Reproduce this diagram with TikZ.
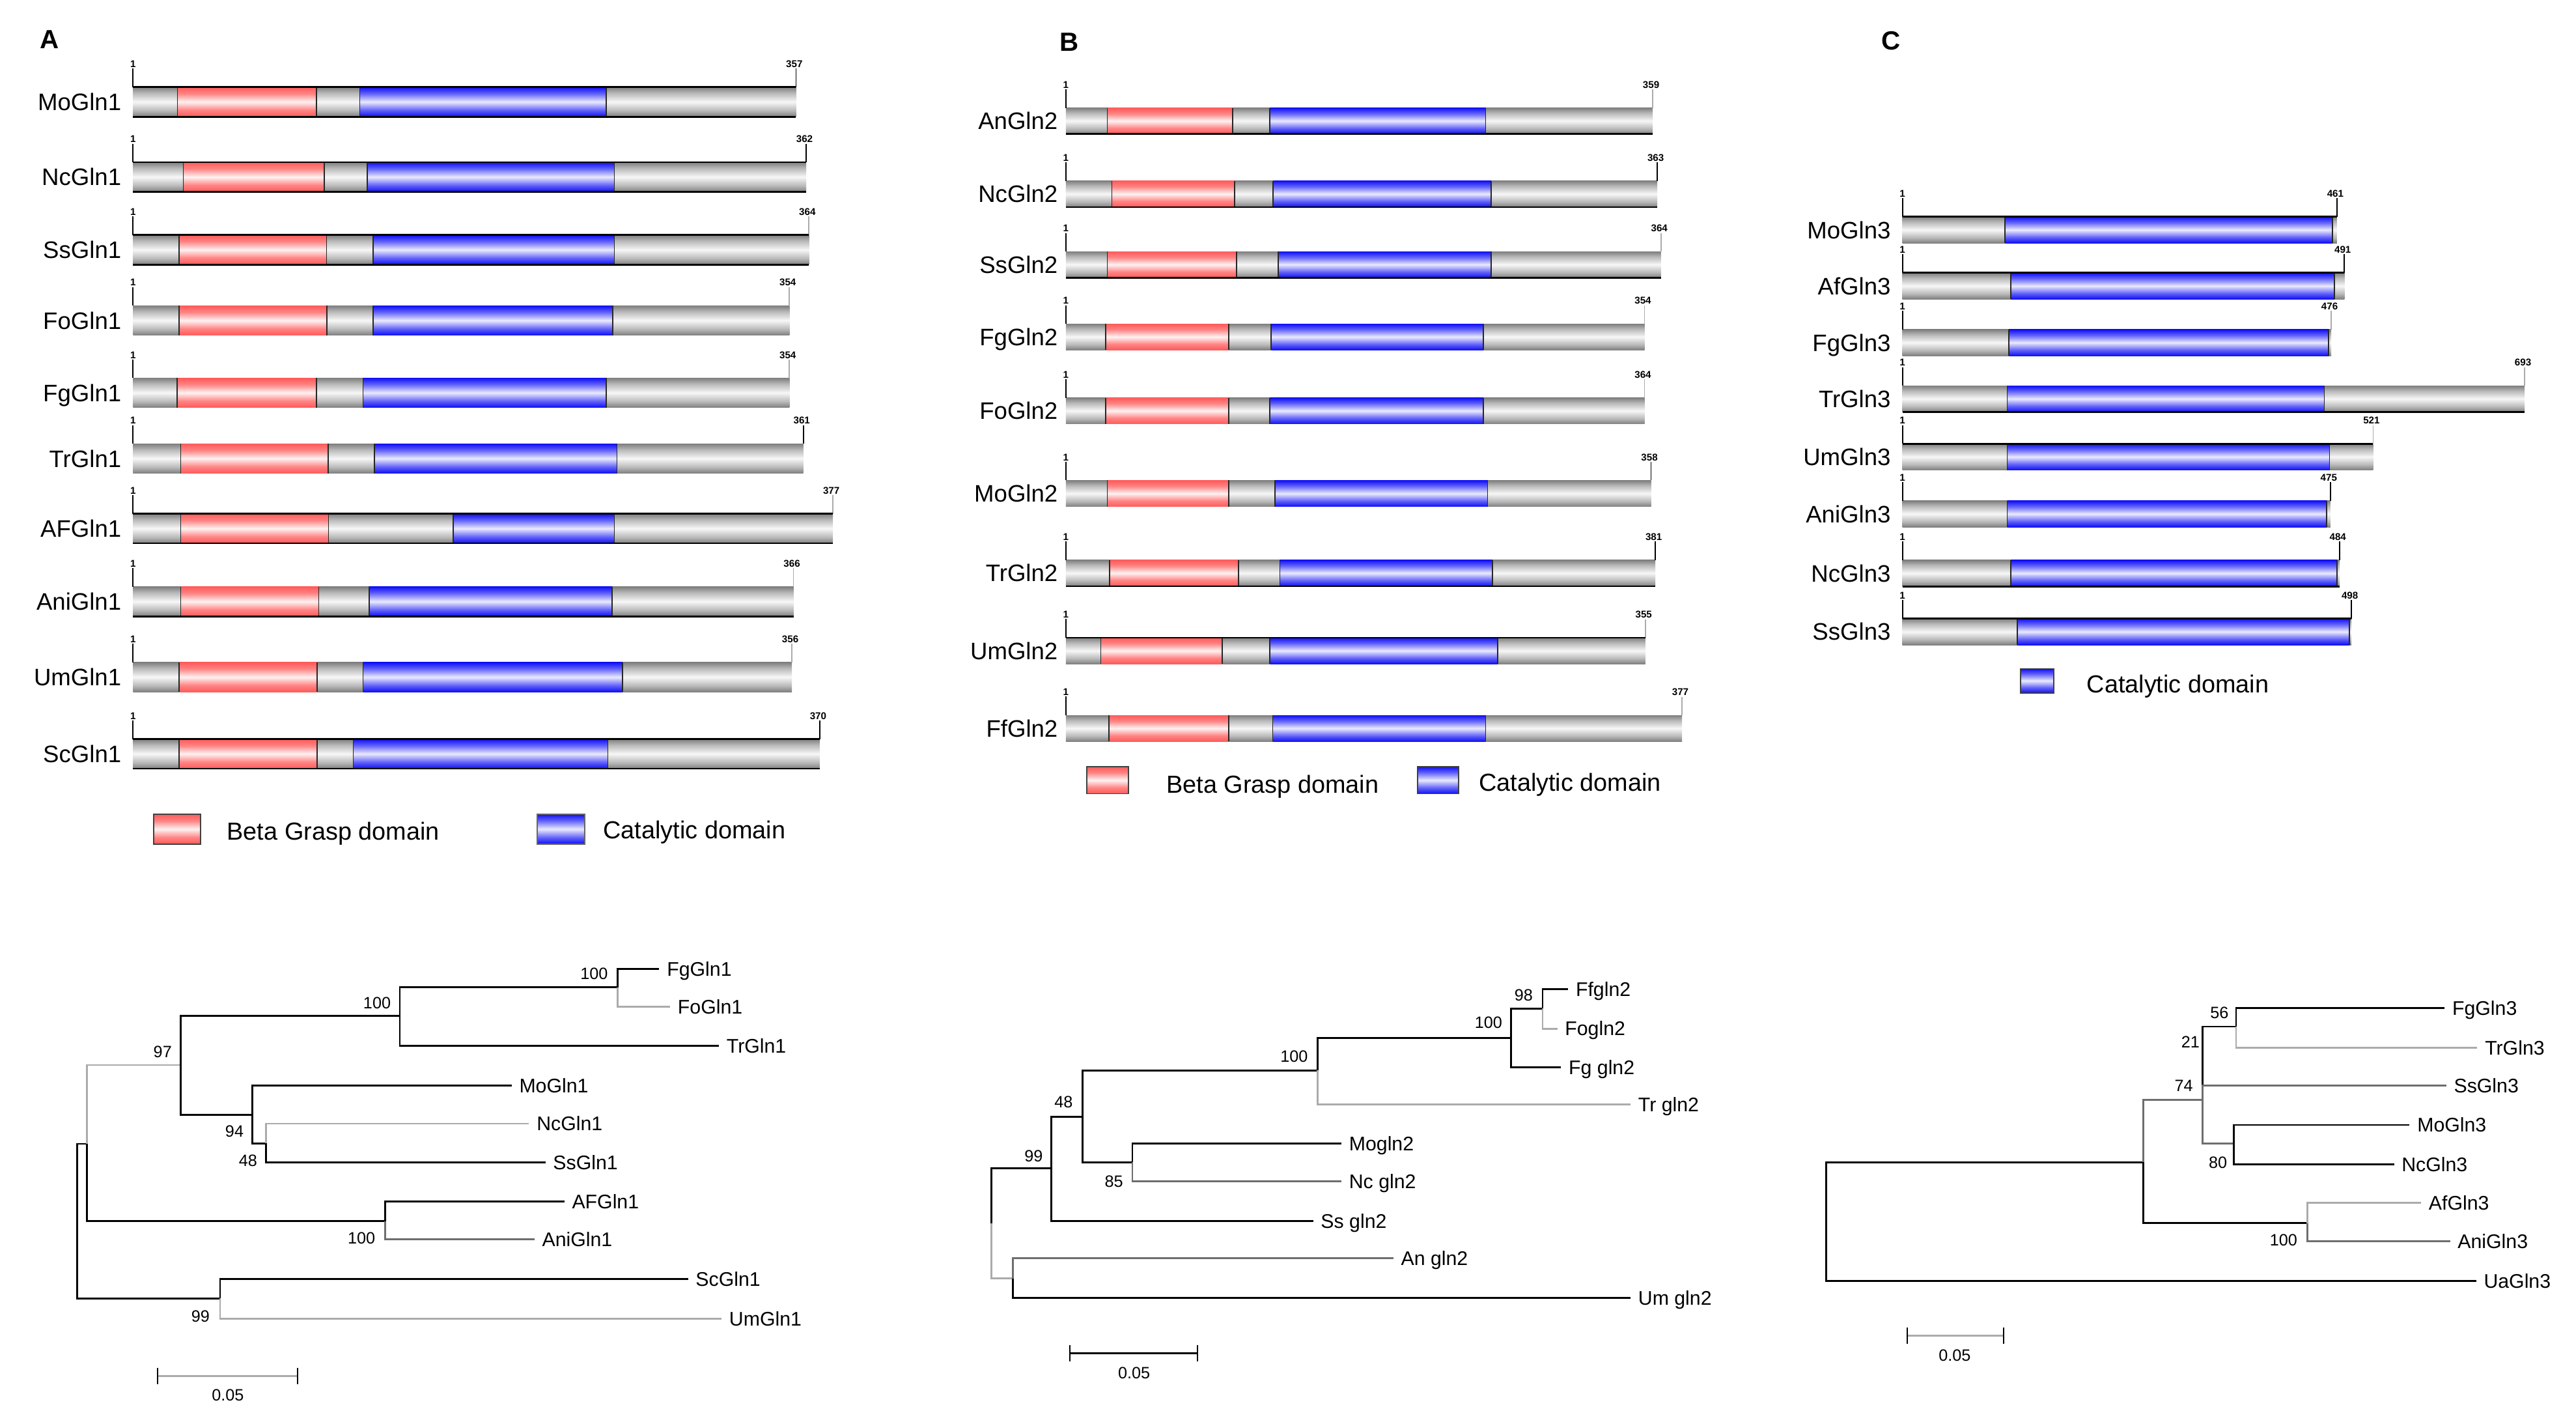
\documentclass[tikz,border=0pt]{standalone}
\usepackage{fontspec}
\setmainfont{Liberation Sans}
\usetikzlibrary{calc}

\definecolor{gedge}{HTML}{7E7E7E}
\definecolor{gmid}{HTML}{F7F7F7}
\definecolor{pedge}{HTML}{FF5A5A}
\definecolor{pmid}{HTML}{FFF2F2}
\definecolor{bedge}{HTML}{0F0FF5}
\definecolor{bmid}{HTML}{EAEAFF}
\definecolor{lgrey}{HTML}{ABABAB}
\definecolor{mgrey}{HTML}{6E6E6E}

\pgfdeclareverticalshading{greyshade}{100bp}{color(0bp)=(gedge); color(25bp)=(gedge); color(35bp)=(gedge!55!white); color(50bp)=(gmid); color(65bp)=(gedge!55!white); color(75bp)=(gedge); color(100bp)=(gedge)}
\pgfdeclareverticalshading{pinkshade}{100bp}{color(0bp)=(pedge); color(25bp)=(pedge); color(36bp)=(pedge!75!white); color(50bp)=(pmid); color(64bp)=(pedge!75!white); color(75bp)=(pedge); color(100bp)=(pedge)}
\pgfdeclareverticalshading{blueshade}{100bp}{color(0bp)=(bedge); color(25bp)=(bedge); color(36bp)=(bedge!65!white); color(50bp)=(bmid); color(64bp)=(bedge!65!white); color(75bp)=(bedge); color(100bp)=(bedge)}

\tikzset{
 barbox/.style={inner sep=0pt, outer sep=0pt, anchor=north west, minimum height=\barh},
 greyseg/.style={barbox, shade, shading=greyshade},
 pinkseg/.style={barbox, shade, shading=pinkshade},
 blueseg/.style={barbox, shade, shading=blueshade},
 sepline/.style={draw=black!85, line width=0.7pt},
 edgeline/.style={draw=black, line width=1.1pt},
 rowlab/.style={font=\fontsize{14.5}{17}\selectfont, inner sep=0pt, anchor=base east},
 legtxt/.style={font=\fontsize{15}{17}\selectfont, inner sep=0pt, anchor=base west},
 tinynum/.style={font=\fontsize{6}{7}\selectfont\bfseries, inner sep=0.5pt, anchor=base},
 ticky/.style={line width=0.7pt},
 panellab/.style={font=\fontsize{16}{18}\selectfont\bfseries, inner sep=0pt},
 branch/.style={line width=1.1pt, draw=black},
 gbranch/.style={branch, draw=lgrey},
 mbranch/.style={branch, draw=mgrey},
 leaflab/.style={font=\fontsize{12}{14}\selectfont, inner sep=0pt, anchor=base west},
 boot/.style={font=\fontsize{10}{12}\selectfont, inner sep=0pt},
}

% #1 name #2 left #3 top #4 end #5 length #6 pink start #7 pink end #8 blue start #9 blue end
\newcommand\gbar[9]{%
 \node[greyseg, minimum width={#4-#2}] (#1) at (#2,#3) {};
 \node[pinkseg, minimum width={#7-#6}] (#1p) at (#6,#3) {};
 \node[blueseg, minimum width={#9-#8}] (#1b) at (#8,#3) {};
 \draw[sepline] (#1p.north west) -- (#1p.south west) (#1p.north east) -- (#1p.south east)
   (#1b.north west) -- (#1b.south west) (#1b.north east) -- (#1b.south east);
 \node[rowlab] (#1l) at (\labx,{#3+\barh/2+5.2}) {#1};
 \node[tinynum] (#1s) at (#2,{#3-12}) {1};
 \node[tinynum] (#1e) at ({#4-1},{#3-12}) {#5};
 \draw[ticky] (#1s.south) -- (#1.north west);
 \draw[ticky, draw=\tcol] (#1e.south -| #1.north east) -- (#1.north east);
}
% #1 name #2 left #3 top #4 end #5 length #6 blue start #7 blue end
\newcommand\gbarc[7]{%
 \node[greyseg, minimum width={#4-#2}] (#1) at (#2,#3) {};
 \node[blueseg, minimum width={#7-#6}] (#1b) at (#6,#3) {};
 \draw[sepline] (#1b.north west) -- (#1b.south west) (#1b.north east) -- (#1b.south east);
 \node[rowlab] (#1l) at (\labx,{#3+\barh/2+5.2}) {#1};
 \node[tinynum] (#1s) at (#2,{#3-12}) {1};
 \node[tinynum] (#1e) at ({#4-1},{#3-12}) {#5};
 \draw[ticky] (#1s.south) -- (#1.north west);
 \draw[ticky, draw=\tcol] (#1e.south -| #1.north east) -- (#1.north east);
}
\newcommand\btop[1]{\draw[edgeline] (#1.north west) -- (#1.north east);}
\newcommand\bbot[1]{\draw[edgeline] (#1.south west) -- (#1.south east);}
\newcommand\tleaf[4]{%
 \coordinate (#1) at (#2,#3);
 \node[leaflab] (#1l) at ({#2+4.5},{#3+4.3}) {#4};
}

\begin{document}
\begin{tikzpicture}[x=1pt, y=-1pt]
\useasboundingbox (0,0) rectangle (1568,856);
\fill[white] (0,0) rectangle (1568,856);

% ---------------- Panel A ----------------
\node[panellab] (labA) at (30,24) {A};
\def\labx{74}\def\barh{18}
\def\tcol{black}\gbar{MoGln1}{81}{53}{484.5}{357}{108}{192.5}{219}{369}
\def\tcol{black}\gbar{NcGln1}{81}{98.7}{490.7}{362}{111.6}{197.5}{223.6}{374}
\def\tcol{lgrey}\gbar{SsGln1}{81}{143}{492.4}{364}{109}{198.8}{227}{374}
\def\tcol{lgrey}\gbar{FoGln1}{81}{186}{480.5}{354}{109}{199}{227}{373}
\def\tcol{lgrey}\gbar{FgGln1}{81}{230}{480.5}{354}{107.7}{192.5}{221}{369}
\def\tcol{black}\gbar{TrGln1}{81}{270}{489}{361}{110}{199.8}{228}{375.5}
\def\tcol{lgrey}\gbar{AFGln1}{81}{312.6}{507}{377}{110}{200}{276}{374}
\def\tcol{lgrey}\gbar{AniGln1}{81}{357}{483}{366}{110}{194}{224.6}{372.5}
\def\tcol{lgrey}\gbar{UmGln1}{81}{403}{482}{356}{109}{193}{221}{379}
\def\tcol{black}\gbar{ScGln1}{81}{449.7}{499}{370}{109}{193}{215}{370}
\btop{MoGln1}\bbot{MoGln1}\btop{NcGln1}\bbot{NcGln1}\btop{SsGln1}\bbot{SsGln1}
\btop{AFGln1}\bbot{AFGln1}\bbot{AniGln1}\btop{ScGln1}\bbot{ScGln1}

\node[pinkseg, minimum width=28.5, minimum height=18.2, draw=black!75, line width=0.7pt] (legAp) at (93.5,495.4) {};
\node[legtxt] (legApt) at (138,511.2) {Beta Grasp domain};
\node[blueseg, minimum width=29, minimum height=18.2, draw=black!60, line width=0.7pt] (legAb) at (327,495.4) {};
\node[legtxt] (legAbt) at (367,510.5) {Catalytic domain};

% ---------------- Panel B ----------------
\node[panellab] (labB) at (651,25.6) {B};
\def\labx{644}\def\barh{16}
\def\tcol{lgrey}\gbar{AnGln2}{648.8}{65.6}{1006}{359}{674}{750.3}{773}{904.3}
\def\tcol{black}\gbar{NcGln2}{648.8}{110}{1008.8}{363}{676.8}{751.5}{775}{907.6}
\def\tcol{lgrey}\gbar{SsGln2}{648.8}{153}{1011}{364}{674}{752.8}{778}{907.6}
\def\tcol{lgrey}\gbar{FgGln2}{648.8}{197}{1001}{354}{673}{747.9}{773.8}{902.8}
\def\tcol{lgrey}\gbar{FoGln2}{648.8}{242}{1001}{364}{673}{748}{773}{902.8}
\def\tcol{black}\gbar{MoGln2}{648.8}{292.3}{1005}{358}{674}{748}{776}{905.5}
\def\tcol{black}\gbar{TrGln2}{648.8}{340.7}{1007.6}{381}{675.3}{754}{779}{908.5}
\def\tcol{lgrey}\gbar{UmGln2}{648.8}{388}{1001.5}{355}{670}{744}{773}{911.6}
\def\tcol{lgrey}\gbar{FfGln2}{648.8}{435.2}{1023.8}{377}{675}{748}{774.7}{904.3}
\bbot{AnGln2}\bbot{NcGln2}\bbot{SsGln2}\bbot{TrGln2}\btop{UmGln2}

\node[pinkseg, minimum width=25.3, minimum height=16.5, draw=black!75, line width=0.7pt] (legBp) at (661.6,466.5) {};
\node[legtxt] (legBpt) at (709.8,482.5) {Beta Grasp domain};
\node[blueseg, minimum width=25, minimum height=16.5, draw=black!75, line width=0.7pt] (legBb) at (862.8,466.5) {};
\node[legtxt] (legBbt) at (900,481.5) {Catalytic domain};

% ---------------- Panel C ----------------
\node[panellab] (labC) at (1151,25) {C};
\def\labx{1151}\def\barh{16}
\def\tcol{black}\gbarc{MoGln3}{1158}{131.9}{1422.5}{461}{1220.5}{1419.7}
\def\tcol{black}\gbarc{AfGln3}{1158}{166}{1427}{491}{1224}{1421}
\def\tcol{lgrey}\gbarc{FgGln3}{1158}{200.5}{1419}{476}{1222.7}{1417.5}
\def\tcol{lgrey}\gbarc{TrGln3}{1158}{234.7}{1536.7}{693}{1221.8}{1414.8}
\def\tcol{lgrey}\gbarc{UmGln3}{1158}{270}{1444.5}{521}{1221.8}{1418}
\def\tcol{black}\gbarc{AniGln3}{1158}{304.7}{1418.5}{475}{1221.8}{1416.3}
\def\tcol{black}\gbarc{NcGln3}{1158}{340.8}{1424}{484}{1224}{1422.5}
\def\tcol{black}\gbarc{SsGln3}{1158}{376.4}{1431.3}{498}{1228}{1430}
\btop{MoGln3}\btop{AfGln3}\bbot{TrGln3}\btop{UmGln3}\bbot{NcGln3}\btop{SsGln3}

\node[blueseg, minimum width=20, minimum height=14.7, draw=black!75, line width=0.7pt] (legCb) at (1230,406.9) {};
\node[legtxt] (legCbt) at (1270,421.5) {Catalytic domain};

% ---------------- Tree A ----------------
\coordinate (tAroot) at (46.9,743);
\coordinate (tAn1) at (52.8,696);
\coordinate (tAn2) at (110,648);
\coordinate (tAn3) at (243.4,618);
\coordinate (tAn4) at (375.8,600.8);
\coordinate (tAn5) at (153.6,678.4);
\coordinate (tAn6) at (161.8,695.7);
\coordinate (tAn7) at (234.5,743);
\coordinate (tAn8) at (134,790);
\tleaf{tAfg}{401.3}{589.6}{FgGln1}
\tleaf{tAfo}{407.9}{612.7}{FoGln1}
\tleaf{tAtr}{437.6}{636.3}{TrGln1}
\tleaf{tAmo}{311.4}{660.4}{MoGln1}
\tleaf{tAnc}{322}{683.7}{NcGln1}
\tleaf{tAss}{332}{707.2}{SsGln1}
\tleaf{tAaf}{343.5}{731}{AFGln1}
\tleaf{tAani}{325.3}{754.1}{AniGln1}
\tleaf{tAsc}{418.8}{778.2}{ScGln1}
\tleaf{tAum}{439.2}{802.3}{UmGln1}
\draw[branch] (tAroot) |- (tAn1);
\draw[branch] (tAroot) |- (tAn8);
\draw[gbranch] (tAn1) |- (tAn2);
\draw[branch] (tAn1) |- (tAn7);
\draw[branch] (tAn2) |- (tAn3);
\draw[branch] (tAn2) |- (tAn5);
\draw[branch] (tAn3) |- (tAn4);
\draw[branch] (tAn3) |- (tAtr);
\draw[branch] (tAn4) |- (tAfg);
\draw[gbranch] (tAn4) |- (tAfo);
\draw[branch] (tAn5) |- (tAmo);
\draw[branch] (tAn5) |- (tAn6);
\draw[gbranch] (tAn6) |- (tAnc);
\draw[branch] (tAn6) |- (tAss);
\draw[branch] (tAn7) |- (tAaf);
\draw[mbranch] (tAn7) |- (tAani);
\draw[branch] (tAn8) |- (tAsc);
\draw[gbranch] (tAn8) |- (tAum);
\node[boot] (bA1) at (99,640) {97};
\node[boot] (bA2) at (229.5,610.4) {100};
\node[boot] (bA3) at (361.6,592.5) {100};
\node[boot] (bA4) at (142.7,688.3) {94};
\node[boot] (bA5) at (151,706.3) {48};
\node[boot] (bA6) at (220,753.5) {100};
\node[boot] (bA7) at (122,800.8) {99};
\coordinate (sbA1) at (95.8,837.4);
\coordinate (sbA2) at (181,837.4);
\draw[gbranch] (sbA1) -- (sbA2);
\draw[line width=0.8pt] ($(sbA1)+(0,-5)$) -- ($(sbA1)+(0,5)$);
\draw[line width=0.8pt] ($(sbA2)+(0,-5)$) -- ($(sbA2)+(0,5)$);
\node[boot] (sbAt) at (138.7,849) {0.05};

% ---------------- Tree B ----------------
\coordinate (tBroot) at (603.4,744.5);
\coordinate (tBn99) at (639.8,711);
\coordinate (tBnau) at (616.6,778);
\coordinate (tBn48) at (658.9,679.7);
\coordinate (tBn85) at (689.3,707.2);
\coordinate (tBn100) at (801.9,651.3);
\coordinate (tBn100b) at (919.8,631.5);
\coordinate (tBn98) at (939,613.7);
\tleaf{tBff}{954.5}{601.8}{Ffgln2}
\tleaf{tBfo}{947.9}{625.9}{Fogln2}
\tleaf{tBfg}{950.2}{649.4}{Fg gln2}
\tleaf{tBtr}{992.5}{672.1}{Tr gln2}
\tleaf{tBmo}{816.5}{695.7}{Mogln2}
\tleaf{tBnc}{816.5}{718.8}{Nc gln2}
\tleaf{tBss}{799.3}{742.9}{Ss gln2}
\tleaf{tBan}{848.1}{765.7}{An gln2}
\tleaf{tBum}{992.5}{789.8}{Um gln2}
\draw[branch] (tBroot) |- (tBn99);
\draw[gbranch] (tBroot) |- (tBnau);
\draw[mbranch] (tBnau) |- (tBan);
\draw[branch] (tBnau) |- (tBum);
\draw[branch] (tBn99) |- (tBn48);
\draw[branch] (tBn99) |- (tBss);
\draw[branch] (tBn48) |- (tBn100);
\draw[branch] (tBn48) |- (tBn85);
\draw[branch] (tBn85) |- (tBmo);
\draw[mbranch] (tBn85) |- (tBnc);
\draw[branch] (tBn100) |- (tBn100b);
\draw[gbranch] (tBn100) |- (tBtr);
\draw[branch] (tBn100b) |- (tBn98);
\draw[branch] (tBn100b) |- (tBfg);
\draw[branch] (tBn98) |- (tBff);
\draw[gbranch] (tBn98) |- (tBfo);
\node[boot] (bB1) at (629.2,703.4) {99};
\node[boot] (bB2) at (647.4,670.6) {48};
\node[boot] (bB3) at (678,718.8) {85};
\node[boot] (bB4) at (787.7,643) {100};
\node[boot] (bB5) at (906,622.4) {100};
\node[boot] (bB6) at (927.4,605.4) {98};
\coordinate (sbB1) at (651.3,823.3);
\coordinate (sbB2) at (728.9,823.3);
\draw[branch] (sbB1) -- (sbB2);
\draw[line width=0.8pt] ($(sbB1)+(0,-5)$) -- ($(sbB1)+(0,5)$);
\draw[line width=0.8pt] ($(sbB2)+(0,-5)$) -- ($(sbB2)+(0,5)$);
\node[boot] (sbBt) at (690.3,835.5) {0.05};

% ---------------- Tree C ----------------
\coordinate (tCroot) at (1111.6,743.35);
\coordinate (tCm) at (1304.6,707.2);
\coordinate (tCn74) at (1340.7,669.2);
\coordinate (tCn56) at (1361.1,624.7);
\coordinate (tCn80) at (1359.8,695.7);
\coordinate (tCn100) at (1404.5,744.3);
\tleaf{tCfg}{1488}{613.3}{FgGln3}
\tleaf{tCtr}{1507.9}{637.4}{TrGln3}
\tleaf{tCss}{1489}{660.6}{SsGln3}
\tleaf{tCmo}{1466.7}{684.5}{MoGln3}
\tleaf{tCnc}{1457.2}{708.6}{NcGln3}
\tleaf{tCaf}{1473.7}{731.9}{AfGln3}
\tleaf{tCani}{1491.3}{755.4}{AniGln3}
\tleaf{tCua}{1507.2}{779.5}{UaGln3}
\draw[branch] (tCroot) |- (tCm);
\draw[branch] (tCroot) |- (tCua);
\draw[mbranch] (tCm) |- (tCn74);
\draw[branch] (tCm) |- (tCn100);
\draw[branch] (tCn74) |- (tCn56);
\draw[mbranch] (tCn74) |- (tCss);
\draw[mbranch] (tCn74) |- (tCn80);
\draw[branch] (tCn56) |- (tCfg);
\draw[gbranch] (tCn56) |- (tCtr);
\draw[branch] (tCn80) |- (tCmo);
\draw[branch] (tCn80) |- (tCnc);
\draw[gbranch] (tCn100) |- (tCaf);
\draw[mbranch] (tCn100) |- (tCani);
\node[boot] (bC1) at (1350.9,616.2) {56};
\node[boot] (bC2) at (1333.3,634) {21};
\node[boot] (bC3) at (1329.2,660.6) {74};
\node[boot] (bC4) at (1350,707.6) {80};
\node[boot] (bC5) at (1390,754.5) {100};
\coordinate (sbC1) at (1161,812.7);
\coordinate (sbC2) at (1219.4,812.7);
\draw[gbranch] (sbC1) -- (sbC2);
\draw[line width=0.8pt] ($(sbC1)+(0,-5)$) -- ($(sbC1)+(0,5)$);
\draw[line width=0.8pt] ($(sbC2)+(0,-5)$) -- ($(sbC2)+(0,5)$);
\node[boot] (sbCt) at (1189.8,824.9) {0.05};
\end{tikzpicture}
\end{document}
